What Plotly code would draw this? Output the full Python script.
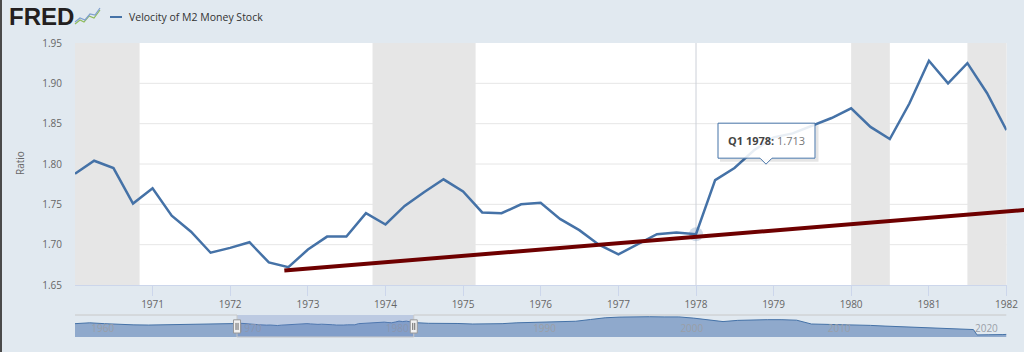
import plotly.graph_objects as go
import pandas as pd

# ---------------- data ----------------
series_name = "Velocity of M2 Money Stock"
y_title = "Ratio"
quarter_dates = pd.date_range("1970-01-01", "1982-01-01", freq="QS")
velocity = [
    1.788, 1.804, 1.795, 1.751,
    1.770, 1.736, 1.716, 1.690,
    1.696, 1.703, 1.678, 1.672,
    1.694, 1.710, 1.710, 1.739,
    1.725, 1.748, 1.765, 1.781,
    1.766, 1.740, 1.739, 1.750,
    1.752, 1.732, 1.718, 1.700,
    1.688, 1.700, 1.713, 1.715,
    1.713, 1.780, 1.795, 1.817,
    1.833, 1.838, 1.847, 1.857,
    1.869, 1.846, 1.831, 1.875,
    1.928, 1.900, 1.925, 1.888,
    1.842,
]
hover_index = 32  # Q1 1978

tick_dates = [f"{y}-01-01" for y in range(1971, 1983)]
tick_labels = [str(y) for y in range(1971, 1983)]
y_ticks = [1.65, 1.70, 1.75, 1.80, 1.85, 1.90, 1.95]

recession_start = ["1969-12-01", "1973-11-01", "1980-01-01", "1981-07-01"]
recession_end = ["1970-11-01", "1975-03-01", "1980-07-01", "1982-11-01"]

trend_dates = ["1972-09-12", "1982-03-26"]
trend_values = [1.668, 1.743]

# navigator (full history, coarse reading)
nav_early_dates = [f"{y}-01-01" for y in range(1959, 1970)]
nav_early_values = [1.78, 1.83, 1.78, 1.73, 1.71, 1.70, 1.71, 1.74, 1.72, 1.73, 1.77]
nav_late_dates = [f"{y}-01-01" for y in range(1983, 2020)] + [
    "2020-01-01", "2020-04-01", "2020-07-01", "2021-01-01", "2022-01-01", "2022-04-01"]
nav_late_values = [
    1.80, 1.81, 1.79, 1.76, 1.75, 1.78, 1.83, 1.85, 1.84, 1.88,
    1.92, 2.02, 2.12, 2.16, 2.18, 2.18, 2.17, 2.17, 2.10, 1.98,
    1.90, 1.97, 2.01, 2.01, 2.01, 1.98, 1.76, 1.74, 1.74, 1.73,
    1.68, 1.64, 1.60, 1.56, 1.52, 1.49, 1.46,
    1.44, 1.13, 1.14, 1.14, 1.15, 1.16,
]
nav_dates = nav_early_dates + [d.strftime("%Y-%m-%d") for d in quarter_dates] + nav_late_dates
nav_values = nav_early_values + velocity + nav_late_values
nav_tick_dates = [f"{y}-01-01" for y in range(1960, 2030, 10)]
nav_tick_labels = [str(y) for y in range(1960, 2030, 10)]
view_start, view_end = "1970-01-01", "1982-01-01"
nav_start, nav_end = "1959-01-01", "2022-04-01"

# ---------------- layout helpers ----------------
W, H = 1024, 352
ML, MR, MT, MB = 75, 0, 43, 15
PW, PH = W - ML - MR, H - MT - MB


def px_x(px):
    return (px - ML) / PW


def px_y(py):
    return (H - MB - py) / PH


BG = "#e1e9f0"
BLUE = "#4572a7"
FONT = "Open Sans"

main_xdom = [0, px_x(1006.5)]
main_ydom = [px_y(285), 1]
nav_ydom = [0, px_y(315)]

t0, t1 = pd.Timestamp(view_start), pd.Timestamp(view_end)
ext_end = t0 + (t1 - t0) * (1 / main_xdom[1])

fig = go.Figure()

fig.add_trace(go.Scatter(x=quarter_dates, y=velocity, mode="lines",
                         line=dict(color=BLUE, width=2.5), xaxis="x", yaxis="y",
                         showlegend=False, hoverinfo="skip"))
fig.add_trace(go.Scatter(x=[quarter_dates[hover_index]], y=[velocity[hover_index]],
                         mode="markers", marker=dict(size=14, color="rgba(69,114,167,0.25)"),
                         xaxis="x", yaxis="y", showlegend=False, hoverinfo="skip"))
fig.add_trace(go.Scatter(x=trend_dates, y=trend_values, mode="lines",
                         line=dict(color="#6e0000", width=4), xaxis="x2", yaxis="y2",
                         showlegend=False, hoverinfo="skip"))
fig.add_trace(go.Scatter(x=nav_dates, y=nav_values, mode="lines", fill="tozeroy",
                         fillcolor="#8fa9cc", line=dict(color=BLUE, width=1),
                         xaxis="x3", yaxis="y3", showlegend=False, hoverinfo="skip"))

shapes = []
# white plot area
shapes.append(dict(type="rect", xref="x domain", yref="y domain", x0=0, x1=1, y0=0, y1=1,
                   fillcolor="white", line=dict(width=0), layer="below"))
# horizontal gridlines
for v in y_ticks[1:-1]:
    shapes.append(dict(type="line", xref="x domain", yref="y", x0=0, x1=1, y0=v, y1=v,
                       line=dict(color="#e6e6e6", width=1), layer="below"))
for s, e in zip(recession_start, recession_end):
    shapes.append(dict(type="rect", xref="x", yref="y domain", x0=s, x1=e, y0=0, y1=1,
                       fillcolor="#e6e6e6", line=dict(width=0), layer="below"))
# crosshair
hx = quarter_dates[hover_index]
hy = velocity[hover_index]
shapes.append(dict(type="line", xref="x", yref="y domain", x0=hx, x1=hx, y0=0, y1=1,
                   line=dict(color="#ccd0d8", width=1), layer="below"))
# tooltip box with pointer (pixel offsets from hovered point)
box_path = "M 22,76 L 64,76 L 70,70 L 76,76 L 119,76 L 119,111 L 22,111 Z"
shadow_path = "M 24,74 L 121,74 L 121,109"
shapes.append(dict(type="path", xref="x", yref="y", xsizemode="pixel", ysizemode="pixel",
                   xanchor=hx, yanchor=hy, path=shadow_path,
                   line=dict(color="rgba(0,0,0,0.10)", width=3), layer="above"))
shapes.append(dict(type="path", xref="x", yref="y", xsizemode="pixel", ysizemode="pixel",
                   xanchor=hx, yanchor=hy, path=box_path, fillcolor="rgba(255,255,255,0.88)",
                   line=dict(color=BLUE, width=1), layer="above"))
# navigator mask and outline
shapes.append(dict(type="rect", xref="x3", yref="y3 domain", x0=view_start, x1=view_end,
                   y0=0, y1=1, fillcolor="rgba(102,133,194,0.3)", line=dict(width=0), layer="above"))
oc = dict(color="#c8c8c8", width=1)
shapes += [
    dict(type="line", xref="x3", yref="y3 domain", x0=nav_start, x1=view_start, y0=1, y1=1, line=oc, layer="above"),
    dict(type="line", xref="x3", yref="y3 domain", x0=view_start, x1=view_start, y0=1, y1=0, line=oc, layer="above"),
    dict(type="line", xref="x3", yref="y3 domain", x0=view_start, x1=view_end, y0=0, y1=0, line=oc, layer="above"),
    dict(type="line", xref="x3", yref="y3 domain", x0=view_end, x1=view_end, y0=0, y1=1, line=oc, layer="above"),
    dict(type="line", xref="x3", yref="y3 domain", x0=view_end, x1=nav_end, y0=1, y1=1, line=oc, layer="above"),
]
for hxs in [view_start, view_end]:
    shapes.append(dict(type="rect", xref="x3", yref="y3 domain", xsizemode="pixel", xanchor=hxs,
                       x0=-3.5, x1=3.5, y0=0.18, y1=0.78, fillcolor="#f2f2f2",
                       line=dict(color="#999999", width=1), layer="above"))
    for off in (-1, 1):
        shapes.append(dict(type="line", xref="x3", yref="y3 domain", xsizemode="pixel", xanchor=hxs,
                           x0=off, x1=off, y0=0.32, y1=0.64,
                           line=dict(color="#666666", width=1), layer="above"))
# legend line symbol
shapes.append(dict(type="line", xref="paper", yref="paper", x0=px_x(110), x1=px_x(122),
                   y0=px_y(17), y1=px_y(17), line=dict(color=BLUE, width=2)))
# left dark border
shapes.append(dict(type="rect", xref="paper", yref="paper", x0=px_x(0), x1=px_x(2),
                   y0=px_y(H), y1=px_y(0), fillcolor="#4a4a4a", line=dict(width=0)))


def pxpath(pts):
    return "M " + " L ".join(f"{px_x(a):.5f},{px_y(b):.5f}" for a, b in pts)


# logo icon
shapes.append(dict(type="path", xref="paper", yref="paper",
                   path=pxpath([(75, 24), (80, 20), (84, 22), (89, 16), (94, 18), (100, 10)]),
                   line=dict(color="#8fbc5a", width=1.2)))
shapes.append(dict(type="path", xref="paper", yref="paper",
                   path=pxpath([(75, 22), (80, 18), (85, 20), (90, 14), (95, 15), (100, 8)]),
                   line=dict(color="#7f9fcf", width=1.2)))

q = (hx.month - 1) // 3 + 1
tip_text = f"<b>Q{q} {hx.year}:</b> <span style='color:#777'>{hy:.3f}</span>"

annotations = [
    dict(x=hx, y=hy, xref="x", yref="y", text=tip_text, showarrow=True, ax=70.5, ay=-93.5,
         arrowcolor="rgba(0,0,0,0)", arrowwidth=0.1, font=dict(family=FONT, size=11, color="#444")),
    dict(x=px_x(127), y=px_y(17), xref="paper", yref="paper", xanchor="left", yanchor="middle",
         text=series_name, showarrow=False, font=dict(family=FONT, size=10.5, color="#333")),
    dict(x=px_x(7), y=px_y(16), xref="paper", yref="paper", xanchor="left", yanchor="middle",
         text="<b>FRED</b>", showarrow=False,
         font=dict(family="Liberation Sans", size=24, color="#231f20")),
    dict(x=px_x(20), y=px_y(163), xref="paper", yref="paper", xanchor="center", yanchor="middle",
         text=y_title, textangle=-90, showarrow=False, font=dict(family=FONT, size=10, color="#666")),
]

fig.update_layout(
    width=W, height=H, autosize=False,
    margin=dict(l=ML, r=MR, t=MT, b=MB, pad=0, autoexpand=False),
    paper_bgcolor=BG, plot_bgcolor="rgba(0,0,0,0)",
    font=dict(family=FONT, color="#666"),
    showlegend=False, hovermode=False,
    shapes=shapes, annotations=annotations,
    xaxis=dict(domain=main_xdom, anchor="y", type="date", range=[view_start, view_end],
               tickvals=tick_dates, ticktext=tick_labels, ticks="outside", ticklen=10,
               tickcolor="#ccd6eb", showline=True, linecolor="#ccd6eb", showgrid=False,
               zeroline=False, tickfont=dict(size=10, color="#666"), fixedrange=True,
               automargin=False),
    yaxis=dict(domain=main_ydom, anchor="x", range=[1.65, 1.95], tickvals=y_ticks,
               tickformat=".2f", showgrid=False, zeroline=False,
               showline=False, ticks="", ticklabelstandoff=12,
               tickfont=dict(size=10, color="#666"), fixedrange=True, automargin=False),
    xaxis2=dict(domain=[0, 1], anchor="y2", type="date", range=[t0, ext_end], visible=False,
                fixedrange=True, automargin=False),
    yaxis2=dict(domain=main_ydom, anchor="x2", range=[1.65, 1.95], visible=False,
                fixedrange=True, automargin=False),
    xaxis3=dict(domain=main_xdom, anchor="y3", type="date", range=[nav_start, nav_end],
                tickvals=nav_tick_dates, ticktext=nav_tick_labels, ticklabelposition="inside",
                ticklabelshift=13, ticks="", showgrid=False, showline=False, zeroline=False,
                tickfont=dict(size=10, color="#9a9fa8"), fixedrange=True, automargin=False),
    yaxis3=dict(domain=nav_ydom, anchor="x3", range=[1.01, 2.28], visible=False,
                fixedrange=True, automargin=False),
)

fig.write_html("out.html")
